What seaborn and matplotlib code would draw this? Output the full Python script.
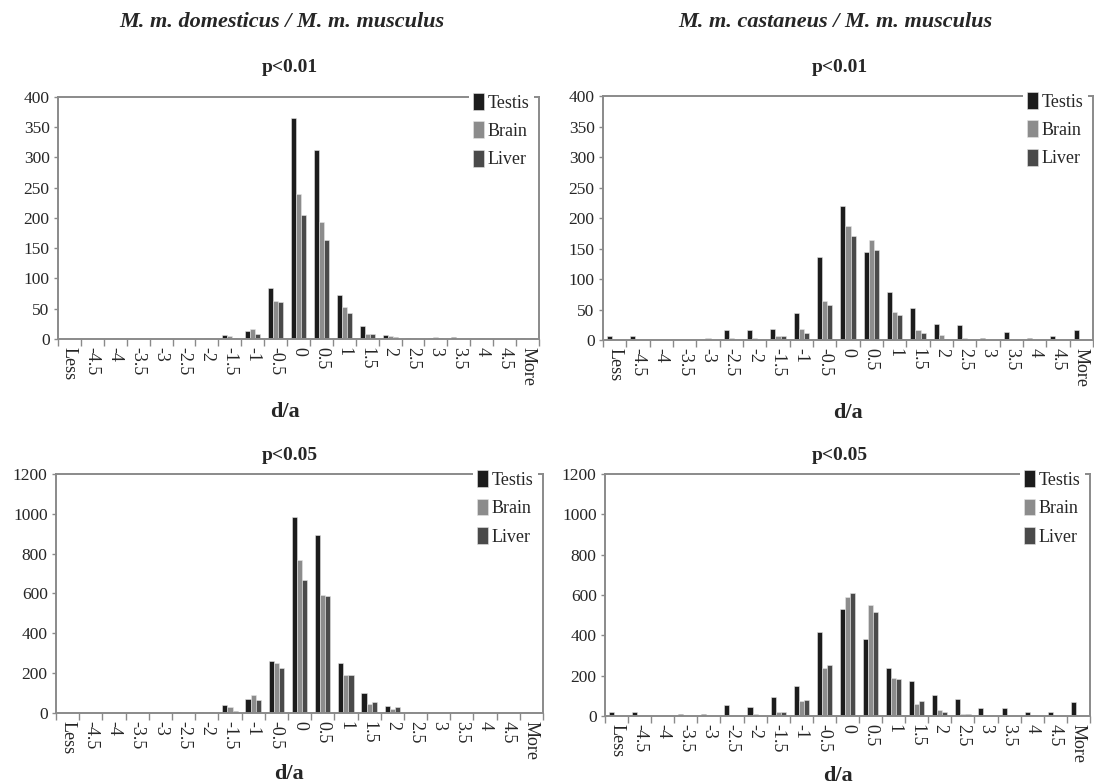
import matplotlib
matplotlib.use("Agg")
import matplotlib.pyplot as plt
import numpy as np
import pandas as pd
import seaborn as sns

categories = ['Less', '-4.5', '-4', '-3.5', '-3', '-2.5', '-2', '-1.5', '-1', '-0.5',
              '0', '0.5', '1', '1.5', '2', '2.5', '3', '3.5', '4', '4.5', 'More']
tissues = ['Testis', 'Brain', 'Liver']

# M. m. domesticus / M. m. musculus, p<0.01
dom01_testis = [0, 0, 0, 0, 0, 0, 0, 7, 14, 85, 365, 313, 72, 22, 6, 1, 1, 4, 0, 0, 2]
dom01_brain = [0, 0, 2, 0, 0, 0, 1, 5, 17, 63, 240, 194, 53, 8, 5, 1, 3, 0, 1, 0, 0]
dom01_liver = [0, 0, 0, 0, 0, 0, 0, 1, 9, 61, 205, 163, 43, 8, 3, 0, 1, 0, 0, 0, 1]

# M. m. castaneus / M. m. musculus, p<0.01
cas01_testis = [7, 7, 0, 0, 0, 17, 16, 18, 44, 136, 220, 144, 79, 53, 27, 25, 4, 13, 4, 7, 16]
cas01_brain = [0, 0, 0, 0, 3, 3, 3, 7, 18, 64, 187, 164, 46, 17, 8, 4, 0, 0, 0, 0, 0]
cas01_liver = [0, 0, 0, 0, 0, 0, 0, 7, 11, 57, 171, 148, 41, 12, 2, 0, 0, 0, 0, 0, 0]

# M. m. domesticus / M. m. musculus, p<0.05
dom05_testis = [2, 2, 1, 1, 1, 3, 3, 40, 70, 260, 985, 895, 250, 100, 35, 5, 2, 2, 2, 1, 3]
dom05_brain = [1, 1, 0, 0, 0, 2, 5, 30, 88, 250, 770, 590, 190, 45, 20, 3, 2, 2, 2, 0, 0]
dom05_liver = [0, 0, 0, 0, 0, 2, 3, 10, 65, 228, 670, 587, 193, 55, 30, 3, 1, 1, 1, 0, 0]

# M. m. castaneus / M. m. musculus, p<0.05
cas05_testis = [20, 18, 0, 8, 12, 55, 45, 95, 150, 415, 530, 380, 240, 175, 103, 85, 42, 38, 20, 20, 72]
cas05_brain = [3, 0, 0, 0, 0, 0, 8, 22, 75, 240, 590, 550, 190, 60, 30, 12, 5, 0, 0, 0, 0]
cas05_liver = [0, 0, 0, 0, 0, 0, 0, 22, 80, 255, 612, 518, 183, 73, 20, 8, 2, 0, 0, 0, 0]

colors = {'Testis': '#1c1c1c', 'Brain': '#8c8c8c', 'Liver': '#4a4a4a'}

sns.set_style('white')
plt.rcParams['font.family'] = ['Liberation Serif', 'DejaVu Serif']

fig = plt.figure(figsize=(10.94, 7.84), dpi=100)

panels = [
    dict(data=(dom01_testis, dom01_brain, dom01_liver), rect=[0.0530, 0.5676, 0.4397, 0.3087],
         ymax=400, ystep=50, title='p<0.01', tx=290 / 1094, ty=1 - 68 / 784,
         xl=(0.472, -0.262)),
    dict(data=(cas01_testis, cas01_brain, cas01_liver), rect=[0.5512, 0.5663, 0.4479, 0.3112],
         ymax=400, ystep=50, title='p<0.01', tx=840 / 1094, ty=1 - 68 / 784,
         xl=(0.50, -0.258)),
    dict(data=(dom05_testis, dom05_brain, dom05_liver), rect=[0.0512, 0.0906, 0.4452, 0.3048],
         ymax=1200, ystep=200, title='p<0.05', tx=290 / 1094, ty=1 - 455 / 784,
         xl=(0.478, -0.215)),
    dict(data=(cas05_testis, cas05_brain, cas05_liver), rect=[0.5530, 0.0867, 0.4433, 0.3087],
         ymax=1200, ystep=200, title='p<0.05', tx=840 / 1094, ty=1 - 455 / 784,
         xl=(0.48, -0.205)),
]

frame_col = '#8a8a8a'

for p in panels:
    ax = fig.add_axes(p['rect'])
    t, b, l = p['data']
    df = pd.DataFrame({
        'cat': categories * 3,
        'val': list(t) + list(b) + list(l),
        'tissue': ['Testis'] * len(categories) + ['Brain'] * len(categories) + ['Liver'] * len(categories),
    })
    sns.barplot(data=df, x='cat', y='val', hue='tissue', order=categories, hue_order=tissues,
                palette=colors, width=0.66, gap=0, edgecolor='#e6e6e6', linewidth=0.4,
                ax=ax, legend=True)
    ax.set_xlim(-0.5, len(categories) - 0.5)
    ax.set_ylim(0, p['ymax'])
    ax.set_yticks(np.arange(0, p['ymax'] + 1, p['ystep']))
    ax.tick_params(axis='y', labelsize=12.5, length=3, color=frame_col, width=1, direction='out', pad=3,
                   left=True)
    ax.set_xticks(range(len(categories)))
    ax.set_xticklabels(categories, rotation=-90, fontsize=13, va='top', ha='center')
    ax.tick_params(axis='x', which='major', length=0, pad=6)
    ax.set_xticks(np.arange(-0.5, len(categories), 1), minor=True)
    ax.tick_params(axis='x', which='minor', length=5, color=frame_col, width=1, direction='out', bottom=True)
    for s in ax.spines.values():
        s.set_visible(True)
        s.set_color(frame_col)
        s.set_linewidth(1.4)
    ax.set_ylabel('')
    ax.set_xlabel('d/a', fontsize=16, fontweight='bold')
    ax.xaxis.set_label_coords(*p['xl'])
    handles, labels = ax.get_legend_handles_labels()
    leg = ax.legend(handles, labels, loc='upper right', bbox_to_anchor=(0.99, 1.035),
                    frameon=True, fontsize=13, handlelength=0.6, handleheight=1.05,
                    handletextpad=0.2, labelspacing=0.55, borderpad=0.25, borderaxespad=0)
    fr = leg.get_frame()
    fr.set_facecolor('white')
    fr.set_edgecolor('white')
    fr.set_linewidth(0)
    fr.set_alpha(1)
    fr.set_boxstyle('square', pad=0)
    fig.text(p['tx'], p['ty'], p['title'], ha='center', va='center', fontsize=14, fontweight='bold')

fig.text(282 / 1094, 1 - 22 / 784, 'M. m. domesticus / M. m. musculus', ha='center', va='center',
         fontsize=16, fontweight='bold', fontstyle='italic')
fig.text(835 / 1094, 1 - 22 / 784, 'M. m. castaneus / M. m. musculus', ha='center', va='center',
         fontsize=16, fontweight='bold', fontstyle='italic')

fig.savefig('out.png', dpi=100, facecolor='white')
